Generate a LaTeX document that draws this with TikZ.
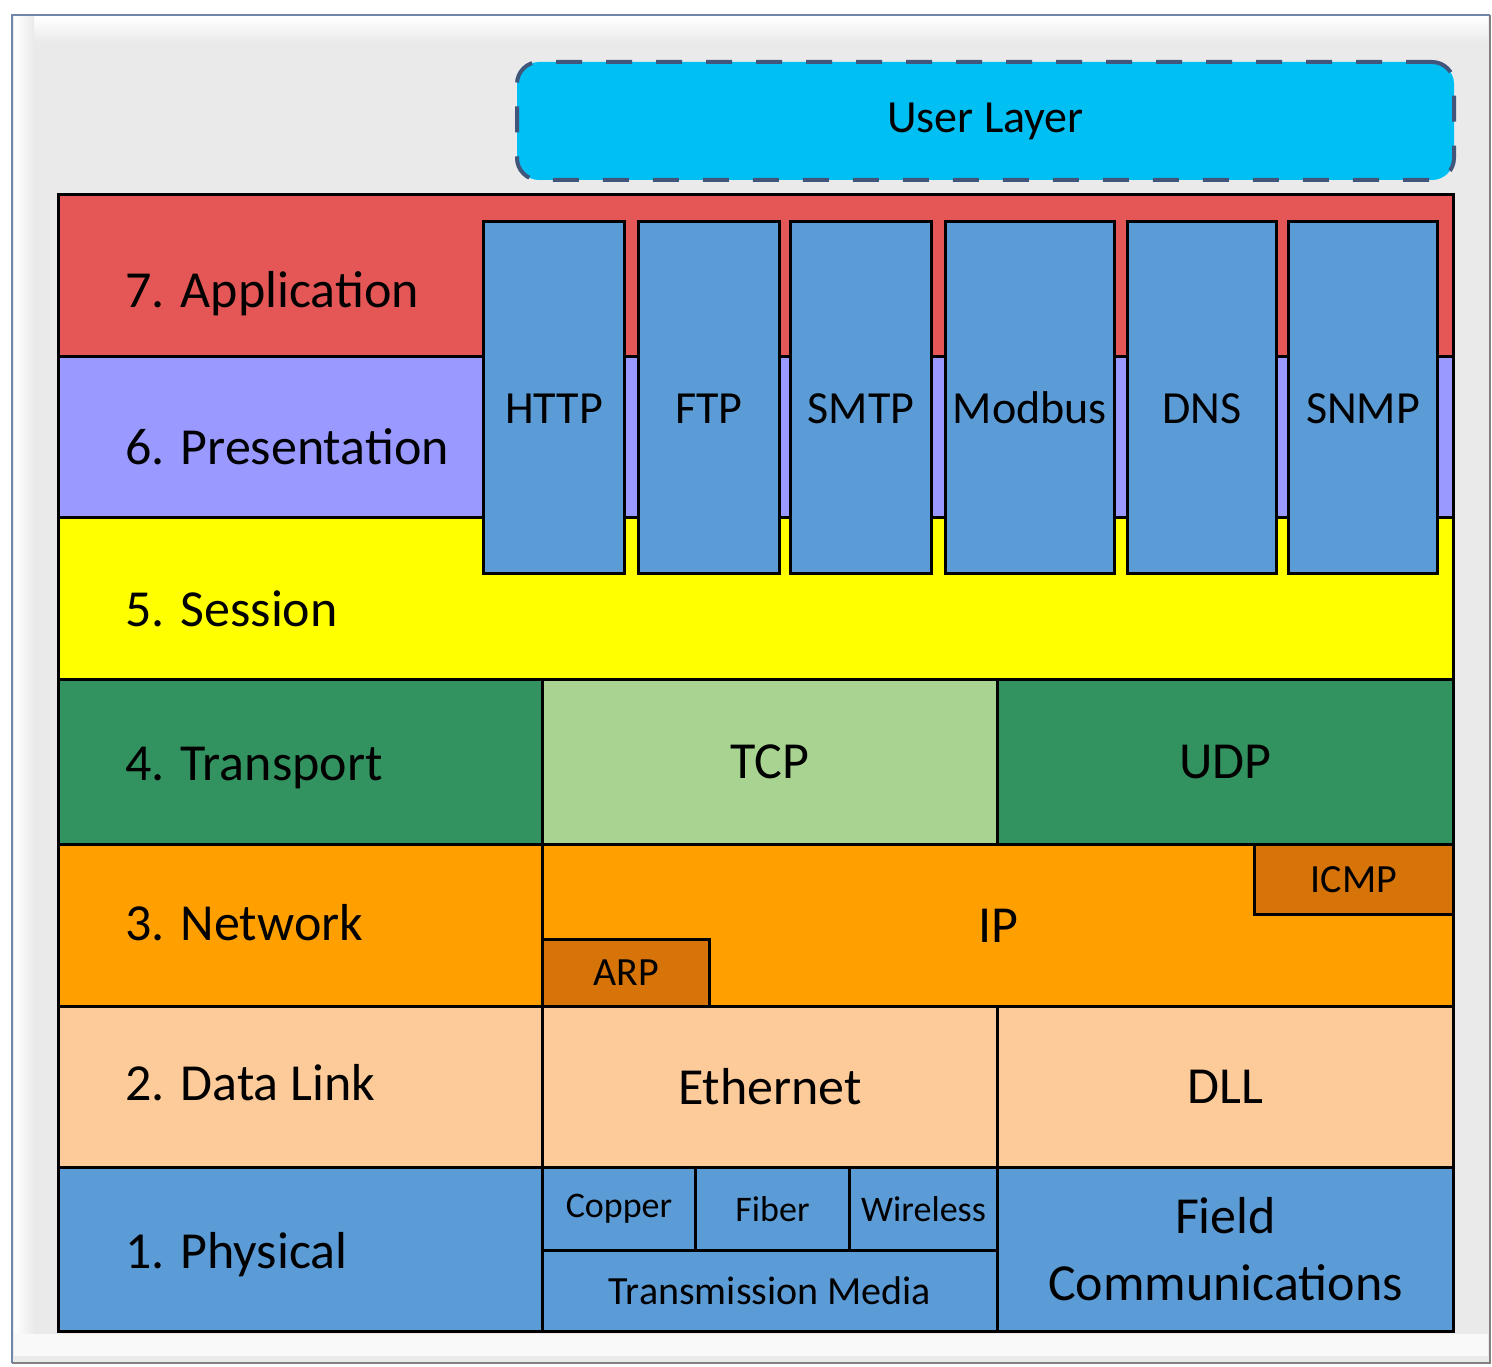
\documentclass[tikz,border=0pt]{standalone}
\usepackage{fontspec}
\setmainfont{Carlito}
\definecolor{appred}{RGB}{229,86,86}
\definecolor{preslav}{RGB}{153,153,255}
\definecolor{sessyel}{RGB}{255,255,0}
\definecolor{trgreen}{RGB}{50,146,96}
\definecolor{tcpgreen}{RGB}{169,211,145}
\definecolor{netorange}{RGB}{255,160,0}
\definecolor{suborange}{RGB}{214,116,10}
\definecolor{dlpeach}{RGB}{252,203,153}
\definecolor{phyblue}{RGB}{92,156,214}
\definecolor{usercyan}{RGB}{0,192,243}
\definecolor{userdash}{RGB}{66,86,124}
\definecolor{panelgray}{RGB}{234,234,234}
\definecolor{paneledge}{RGB}{110,135,170}

\begin{document}
\begin{tikzpicture}[x=1pt,y=-1pt,
  box/.style={draw=black,line width=3pt,inner sep=0pt,anchor=north west},
  lfont/.style={font=\fontsize{52}{67}\selectfont},
  pfont/.style={font=\fontsize{46}{54}\selectfont},
  sfont/.style={font=\fontsize{40}{48}\selectfont},
  mfont/.style={font=\fontsize{36}{44}\selectfont}]
\useasboundingbox (0,0) rectangle (1492,1367);
% panel behind the stack
\fill[panelgray] (12,15) rectangle (1490,1363);
\shade[top color=white,bottom color=panelgray] (14,17) rectangle (1488,42);
\shade[left color=white,right color=panelgray] (14,17) rectangle (34,1340);
\fill[white!70!panelgray] (14,1334) rectangle (1488,1356);
\draw[paneledge,line width=2pt] (12,1363) -- (12,15) -- (1490,15);
\draw[gray,line width=2pt] (12,1363) -- (1490,1363) -- (1490,15);
% user layer
\node[box,draw=userdash,line width=4pt,dash pattern=on 26pt off 24pt,rounded corners=22pt,
  fill=usercyan,pfont,minimum width=937pt,minimum height=118pt] (user) at (515,60) {User Layer};
% the seven layers
\foreach \n/\y/\h/\c/\b/\t in {l7/193/162/appred/307/7. Application,
    l6/355/161/preslav/464/6. Presentation,
    l5/516/162/sessyel/626/5. Session,
    l4/678/165/trgreen/780/4. Transport,
    l3/843/162/netorange/940/3. Network,
    l2/1005/161/dlpeach/1100/2. Data Link,
    l1/1166/164/phyblue/1268/1. Physical}{
  \node[box,fill=\c,minimum width=1395pt,minimum height=\h pt] (\n) at (57,\y) {};
  \node[lfont,anchor=base west] (\n txt) at (122,\b) {\t};
}
% application protocols
\foreach \n/\x/\w in {HTTP/482/141,FTP/637/141,SMTP/789/141,Modbus/944/169,DNS/1126/149,SNMP/1287/149}{
  \node[box,fill=phyblue,pfont,text height=52pt,text depth=0pt,
    minimum width=\w pt,minimum height=352pt] (\n) at (\x,220) {\n};
}
% transport
\node[box,fill=tcpgreen,lfont,minimum width=455pt,minimum height=165pt] (tcp) at (541,678) {TCP};
\node[box,fill=trgreen,lfont,minimum width=456pt,minimum height=165pt] (udp) at (996,678) {UDP};
% network
\node[box,fill=netorange,lfont,minimum width=911pt,minimum height=162pt] (ip) at (541,843) {IP};
\node[box,fill=suborange,sfont,minimum width=167pt,minimum height=67pt] (arp) at (541,938) {ARP};
\node[box,fill=suborange,sfont,minimum width=199pt,minimum height=70pt] (icmp) at (1253,843) {ICMP};
% data link
\node[box,fill=dlpeach,lfont,minimum width=455pt,minimum height=161pt] (eth) at (541,1005) {Ethernet};
\node[box,fill=dlpeach,lfont,minimum width=456pt,minimum height=161pt] (dll) at (996,1005) {DLL};
% physical
\foreach \n/\x/\w/\t in {copper/541/153/Copper,fiber/694/154/Fiber,wireless/848/148/Wireless}{
  \node[box,fill=phyblue,mfont,minimum width=\w pt,minimum height=83pt] (\n) at (\x,1166) {\t};
}
\node[box,fill=phyblue,sfont,minimum width=455pt,minimum height=81pt] (media) at (541,1249) {Transmission Media};
\node[box,fill=phyblue,lfont,align=center,minimum width=456pt,minimum height=164pt] (field) at (996,1166) {Field\\Communications};
\end{tikzpicture}
\end{document}
